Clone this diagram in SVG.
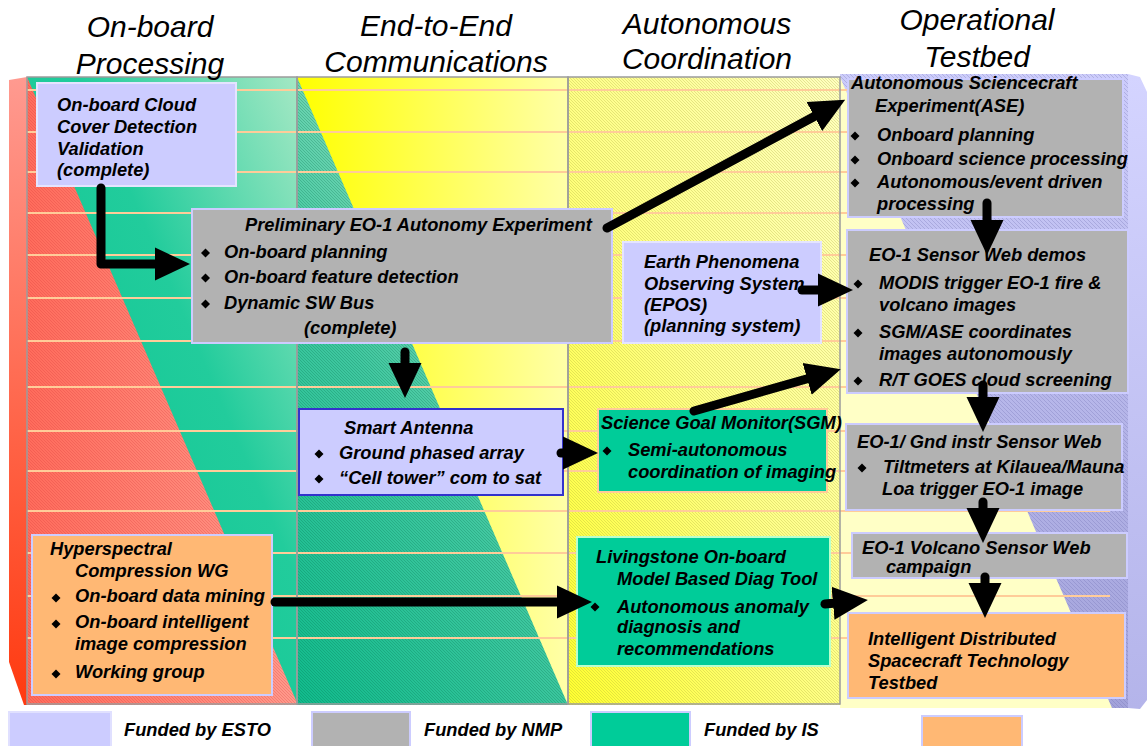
<svg xmlns="http://www.w3.org/2000/svg" width="1147" height="746" viewBox="0 0 1147 746">
<defs>
<style>
.t{font-family:"Liberation Sans",Arial,sans-serif;font-size:18.3px;font-weight:bold;font-style:italic;fill:#000}
.h{font-family:"Liberation Sans",Arial,sans-serif;font-size:30px;font-style:italic;fill:#000;text-anchor:middle}
.grey{fill:#b2b2b2;stroke:#ccccff;stroke-width:2}
.lav{fill:#ccccff;stroke:#e4e4ff;stroke-width:2}
.orng{fill:#ffb874;stroke:#ccccff;stroke-width:2}
.guide{stroke:#ffcc99;stroke-width:2}
.colb{fill:none;stroke:#9c9c9c;stroke-width:1.5}
.conn{fill:none;stroke:#000;stroke-width:9;stroke-linecap:round;stroke-linejoin:round}
</style>
<linearGradient id="g1" x1="0" y1="1" x2="1" y2="0"><stop offset="0" stop-color="#00c48f"/><stop offset="0.6" stop-color="#22cc9c"/><stop offset="1" stop-color="#a4e8c4"/></linearGradient>
<linearGradient id="gRed" x1="0" y1="0" x2="1" y2="0"><stop offset="0" stop-color="#ff6c5c"/><stop offset="1" stop-color="#ff9a8c"/></linearGradient>
<linearGradient id="gSide" x1="0" y1="0" x2="0" y2="1"><stop offset="0" stop-color="#ff9a90"/><stop offset="1" stop-color="#ff3a10"/></linearGradient>
<linearGradient id="gY" x1="0" y1="0" x2="1" y2="0"><stop offset="0" stop-color="#ffff00"/><stop offset="1" stop-color="#ffffa8"/></linearGradient>
<linearGradient id="g2" x1="0" y1="1" x2="0.6" y2="0"><stop offset="0" stop-color="#10bb8c"/><stop offset="0.5" stop-color="#40c8a0"/><stop offset="1" stop-color="#9ee2c4"/></linearGradient>
<linearGradient id="g3" x1="0" y1="1" x2="1" y2="0"><stop offset="0" stop-color="#ffff30"/><stop offset="0.5" stop-color="#ffff88"/><stop offset="1" stop-color="#ffffc0"/></linearGradient>
<linearGradient id="gLav" x1="0" y1="0" x2="0" y2="1"><stop offset="0" stop-color="#ccccfa"/><stop offset="1" stop-color="#a2a2da"/></linearGradient>
<linearGradient id="gRs" x1="0" y1="0" x2="0" y2="1"><stop offset="0" stop-color="#d4d4ff"/><stop offset="1" stop-color="#b4b4ea"/></linearGradient>
<pattern id="hRed" width="3" height="3" patternUnits="userSpaceOnUse"><path d="M-1,-1 L4,4 M-1,2 L1,4 M2,-1 L4,1" stroke="#d83a3a" stroke-opacity="0.35" stroke-width="0.8"/></pattern>
<pattern id="hTeal" width="3" height="3" patternUnits="userSpaceOnUse"><path d="M-1,-1 L4,4 M-1,2 L1,4 M2,-1 L4,1" stroke="#006644" stroke-opacity="0.3" stroke-width="0.8"/></pattern>
<pattern id="hYel" width="3" height="3" patternUnits="userSpaceOnUse"><path d="M-1,-1 L4,4 M-1,2 L1,4 M2,-1 L4,1" stroke="#a0a030" stroke-opacity="0.35" stroke-width="0.8"/></pattern>
<pattern id="hLav" width="4" height="4" patternUnits="userSpaceOnUse"><path d="M-1,-1 L5,5 M-1,3 L1,5 M3,-1 L5,1" stroke="#7070b0" stroke-opacity="0.35" stroke-width="0.9"/></pattern>
<marker id="ah" markerUnits="userSpaceOnUse" markerWidth="36" markerHeight="34" viewBox="0 0 36 34" refX="3" refY="17" orient="auto"><path d="M0,0.5 L35,17 L0,33.5Z" fill="#000"/></marker>
<path id="dia" d="M0,-4.5 L4.5,0 L0,4.5 L-4.5,0Z" fill="#000"/>
</defs>

<g id="background">
<rect x="27" y="77" width="270" height="628" fill="url(#g1)"/>
<polygon points="27,77 298,705 27,705" fill="url(#gRed)"/>
<polygon points="27,77 298,705 27,705" fill="url(#hRed)"/>
<polygon points="9,80 27,77 27,705 24,705 9,662" fill="url(#gSide)"/>
<rect x="297" y="77" width="271" height="628" fill="url(#gY)"/>
<polygon points="297,77 568,705 297,705" fill="url(#g2)"/>
<polygon points="297,77 568,705 297,705" fill="url(#hTeal)"/>
<rect x="568" y="77" width="272" height="628" fill="url(#g3)"/>
<rect x="568" y="77" width="272" height="628" fill="url(#hYel)"/>
<rect x="840" y="74" width="288" height="634" fill="url(#gLav)"/>
<rect x="840" y="74" width="288" height="634" fill="url(#hLav)"/>
<polygon points="840,77 1112,708 840,708" fill="#ffffc6"/>
<polygon points="1128,74 1140,77 1147,92 1147,700 1140,709 1128,708" fill="url(#gRs)"/>
<g class="guide">
<line x1="27" y1="90" x2="1110" y2="90"/>
<line x1="27" y1="132" x2="1110" y2="132"/>
<line x1="27" y1="172" x2="1110" y2="172"/>
<line x1="27" y1="213" x2="1110" y2="213"/>
<line x1="27" y1="255" x2="1110" y2="255"/>
<line x1="27" y1="298" x2="1110" y2="298"/>
<line x1="27" y1="341" x2="1110" y2="341"/>
<line x1="27" y1="387" x2="1110" y2="387"/>
<line x1="27" y1="431" x2="1110" y2="431"/>
<line x1="27" y1="471" x2="1110" y2="471"/>
<line x1="27" y1="511" x2="1110" y2="511"/>
<line x1="27" y1="553" x2="1110" y2="553"/>
<line x1="27" y1="596" x2="1110" y2="596"/>
<line x1="27" y1="638" x2="1110" y2="638"/>
</g>
<rect class="colb" x="27" y="77" width="270" height="627"/>
<rect class="colb" x="297" y="77" width="271" height="627"/>
<rect class="colb" x="568" y="77" width="272" height="627"/>
</g>

<g id="headings">
<text class="h" x="150" y="37">On-board</text>
<text class="h" x="150" y="74">Processing</text>
<text class="h" x="436" y="36">End-to-End</text>
<text class="h" x="436" y="72">Communications</text>
<text class="h" x="707" y="34">Autonomous</text>
<text class="h" x="707" y="69">Coordination</text>
<text class="h" x="977" y="30">Operational</text>
<text class="h" x="977" y="67">Testbed</text>
</g>

<g id="cloud-cover">
<rect class="lav" x="37" y="83" width="199" height="103"/>
<text class="t" x="57" y="111">On-board Cloud</text>
<text class="t" x="57" y="133">Cover Detection</text>
<text class="t" x="57" y="155">Validation</text>
<text class="t" x="57" y="176">(complete)</text>
</g>

<g id="eo1-autonomy">
<rect class="grey" x="192" y="209" width="420" height="134"/>
<text class="t" x="245" y="231">Preliminary EO-1 Autonomy Experiment</text>
<use href="#dia" x="205.5" y="253"/>
<text class="t" x="224" y="258">On-board planning</text>
<use href="#dia" x="205.5" y="278"/>
<text class="t" x="224" y="283">On-board feature detection</text>
<use href="#dia" x="205.5" y="304"/>
<text class="t" x="224" y="309">Dynamic SW Bus</text>
<text class="t" x="304" y="334">(complete)</text>
</g>

<g id="ase">
<rect class="grey" x="848" y="79" width="275" height="138"/>
<text class="t" x="851" y="89">Autonomous Sciencecraft</text>
<text class="t" x="875" y="112">Experiment(ASE)</text>
<use href="#dia" x="855" y="136"/>
<text class="t" x="877" y="141">Onboard planning</text>
<use href="#dia" x="855" y="160"/>
<text class="t" x="877" y="165">Onboard science processing</text>
<use href="#dia" x="855" y="183"/>
<text class="t" x="877" y="188">Autonomous/event driven</text>
<text class="t" x="877" y="210">processing</text>
</g>

<g id="sensor-web-demos">
<rect class="grey" x="847" y="230" width="281" height="163"/>
<text class="t" x="869" y="261">EO-1 Sensor Web demos</text>
<use href="#dia" x="858" y="284"/>
<text class="t" x="879" y="289">MODIS trigger EO-1 fire &amp;</text>
<text class="t" x="879" y="311">volcano images</text>
<use href="#dia" x="858" y="333"/>
<text class="t" x="879" y="338">SGM/ASE coordinates</text>
<text class="t" x="879" y="360">images autonomously</text>
<use href="#dia" x="858" y="381"/>
<text class="t" x="879" y="386">R/T GOES cloud screening</text>
</g>

<g id="epos">
<rect class="lav" x="623" y="242" width="198" height="101"/>
<text class="t" x="644" y="268">Earth Phenomena</text>
<text class="t" x="644" y="290">Observing System</text>
<text class="t" x="644" y="311">(EPOS)</text>
<text class="t" x="644" y="332">(planning system)</text>
</g>

<g id="smart-antenna">
<rect x="299" y="409" width="264" height="86" fill="#ccccff" stroke="#3333cc" stroke-width="2"/>
<text class="t" x="344" y="434">Smart Antenna</text>
<use href="#dia" x="319" y="454"/>
<text class="t" x="339" y="459">Ground phased array</text>
<use href="#dia" x="319" y="479"/>
<text class="t" x="339" y="484">“Cell tower” com to sat</text>
</g>

<g id="sgm">
<rect x="598" y="409" width="229" height="83" fill="#00cc99" stroke="#ffcc99" stroke-width="2"/>
<text class="t" x="601" y="429">Science Goal Monitor(SGM)</text>
<use href="#dia" x="607" y="451"/>
<text class="t" x="628" y="456">Semi-autonomous</text>
<text class="t" x="628" y="478">coordination of imaging</text>
</g>

<g id="gnd-sensor-web">
<rect class="grey" x="846" y="424" width="276" height="86"/>
<text class="t" x="857" y="448">EO-1/ Gnd instr Sensor Web</text>
<use href="#dia" x="862" y="468"/>
<text class="t" x="883" y="473">Tiltmeters at Kilauea/Mauna</text>
<text class="t" x="882" y="495">Loa trigger EO-1 image</text>
</g>

<g id="volcano-campaign">
<rect class="grey" x="852" y="533" width="275" height="45"/>
<text class="t" x="862" y="554">EO-1 Volcano Sensor Web</text>
<text class="t" x="886" y="573">campaign</text>
</g>

<g id="idst">
<rect class="orng" x="848" y="613" width="277" height="85"/>
<text class="t" x="868" y="645">Intelligent Distributed</text>
<text class="t" x="868" y="667">Spacecraft Technology</text>
<text class="t" x="868" y="689">Testbed</text>
</g>

<g id="hyperspectral">
<rect class="orng" x="32" y="535" width="240" height="160"/>
<text class="t" x="50" y="555">Hyperspectral</text>
<text class="t" x="75" y="577">Compression WG</text>
<use href="#dia" x="56" y="598"/>
<text class="t" x="75" y="602">On-board data mining</text>
<use href="#dia" x="56" y="624"/>
<text class="t" x="75" y="628">On-board intelligent</text>
<text class="t" x="75" y="650">image compression</text>
<use href="#dia" x="56" y="674"/>
<text class="t" x="75" y="678">Working group</text>
</g>

<g id="livingstone">
<rect x="577" y="537" width="253" height="129" fill="#00cc99" stroke="#bbffcc" stroke-width="2"/>
<text class="t" x="596" y="563">Livingstone On-board</text>
<text class="t" x="617" y="585">Model Based Diag Tool</text>
<use href="#dia" x="595" y="607"/>
<text class="t" x="617" y="613">Autonomous anomaly</text>
<text class="t" x="617" y="633">diagnosis and</text>
<text class="t" x="617" y="655">recommendations</text>
</g>

<g id="connectors">
<path class="conn" d="M101,188 L101,264 L158,264" marker-end="url(#ah)"/>
<path class="conn" d="M607,228 L817,115" marker-end="url(#ah)"/>
<path class="conn" d="M405,352 L405,366" marker-end="url(#ah)"/>
<path class="conn" d="M561,453 L566,453" marker-end="url(#ah)"/>
<path class="conn" d="M694,411 L810,378" marker-end="url(#ah)"/>
<path class="conn" d="M802,290 L821,290" marker-end="url(#ah)"/>
<path class="conn" d="M987,203 L987,223" marker-end="url(#ah)"/>
<path class="conn" d="M983,385 L983,400" marker-end="url(#ah)"/>
<path class="conn" d="M983,502 L983,511" marker-end="url(#ah)"/>
<path class="conn" d="M985,577 L985,586" marker-end="url(#ah)"/>
<path class="conn" d="M275,602 L560,602" marker-end="url(#ah)"/>
<path class="conn" d="M825,604 L836,603" marker-end="url(#ah)"/>
</g>

<g id="legend">
<rect x="9" y="712" width="102" height="40" fill="#ccccff" stroke="#e0e0ff" stroke-width="2"/>
<text class="t" x="124" y="736">Funded by ESTO</text>
<rect x="312" y="712" width="98" height="40" fill="#b2b2b2" stroke="#ccccff" stroke-width="2"/>
<text class="t" x="424" y="736">Funded by NMP</text>
<rect x="591" y="712" width="99" height="40" fill="#00cc99" stroke="#ccccff" stroke-width="2"/>
<text class="t" x="704" y="736">Funded by IS</text>
<rect x="922" y="716" width="100" height="36" fill="#ffb874" stroke="#ccccff" stroke-width="2"/>
</g>
</svg>
